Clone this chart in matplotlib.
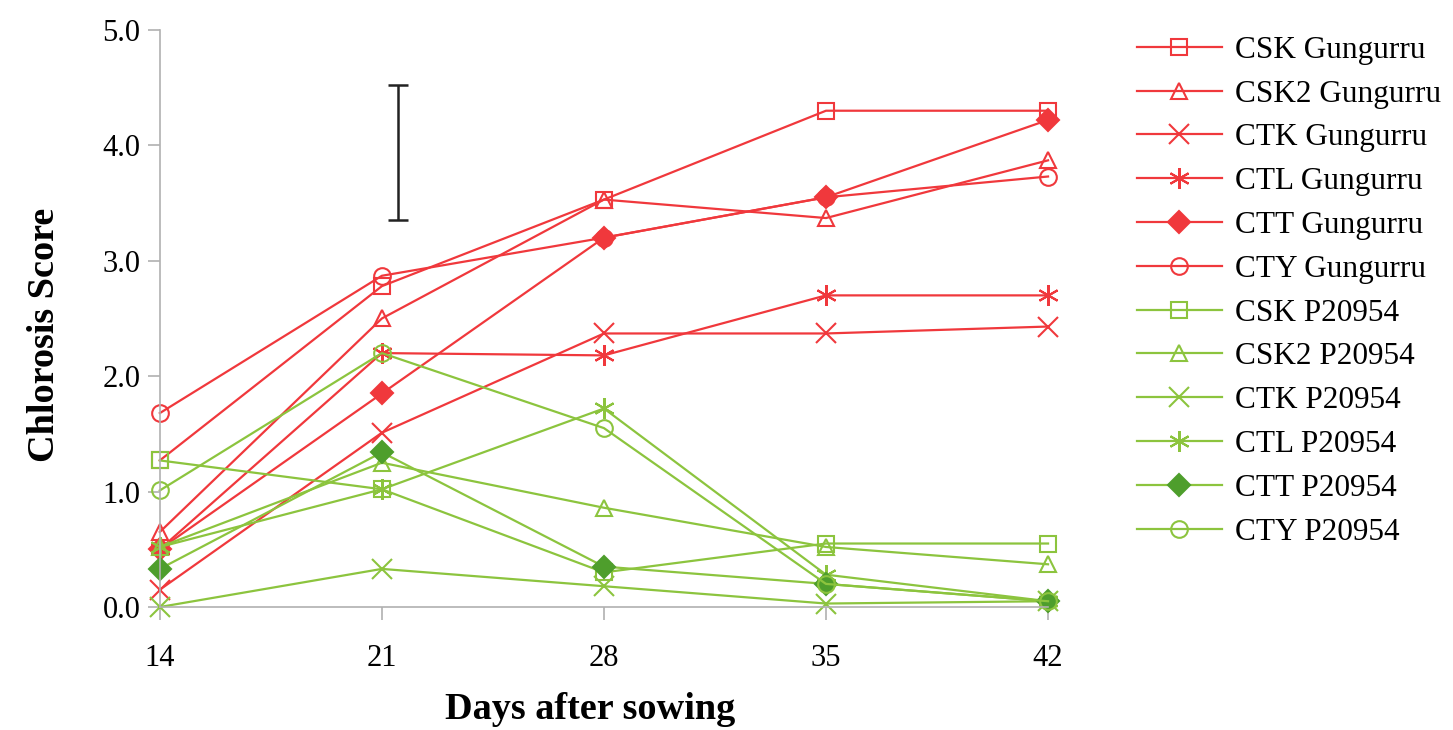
import matplotlib.pyplot as plt

plt.rcParams['font.family'] = ['Liberation Serif', 'DejaVu Serif']

days = [14, 21, 28, 35, 42]

# Gungurru series
csk_g = [1.27, 2.78, 3.53, 4.30, 4.30]
csk2_g = [0.65, 2.50, 3.53, 3.37, 3.87]
ctk_g = [0.15, 1.51, 2.37, 2.37, 2.43]
ctl_g = [0.50, 2.20, 2.18, 2.70, 2.70]
ctt_g = [0.50, 1.85, 3.20, 3.55, 4.22]
cty_g = [1.68, 2.87, 3.20, 3.55, 3.73]

# P20954 series
csk_p = [1.27, 1.02, 0.30, 0.55, 0.55]
csk2_p = [0.52, 1.25, 0.86, 0.52, 0.37]
ctk_p = [0.00, 0.33, 0.18, 0.03, 0.05]
ctl_p = [0.52, 1.02, 1.72, 0.28, 0.05]
ctt_p = [0.33, 1.34, 0.35, 0.20, 0.05]
cty_p = [1.01, 2.20, 1.55, 0.20, 0.05]

# LSD bar
lsd_x = 21.5
lsd_lo, lsd_hi = 3.35, 4.52

red = '#f0383c'
green = '#8cc43e'
dkgreen = '#4e9e2c'

series = [
    ('CSK Gungurru', csk_g, red, 's', 'none'),
    ('CSK2 Gungurru', csk2_g, red, '^', 'none'),
    ('CTK Gungurru', ctk_g, red, 'x', red),
    ('CTL Gungurru', ctl_g, red, (6, 2, 0), red),
    ('CTT Gungurru', ctt_g, red, 'D', red),
    ('CTY Gungurru', cty_g, red, 'o', 'none'),
    ('CSK P20954', csk_p, green, 's', 'none'),
    ('CSK2 P20954', csk2_p, green, '^', 'none'),
    ('CTK P20954', ctk_p, green, 'x', green),
    ('CTL P20954', ctl_p, green, (6, 2, 0), green),
    ('CTT P20954', ctt_p, green, 'D', dkgreen),
    ('CTY P20954', cty_p, green, 'o', 'none'),
]

fig = plt.figure(figsize=(14.53, 7.3), dpi=100)
ax = fig.add_axes([0.110, 0.1685, 0.6113, 0.7905])

for name, vals, col, mk, fc in series:
    ms = 12
    if mk == 'D':
        ms = 11
    elif mk in ('x', (6, 2, 0)):
        ms = 15
    mec = dkgreen if fc == dkgreen else col
    ax.plot(days, vals, color=col, lw=1.6, marker=mk, ms=ms,
            mfc=fc, mec=mec, mew=1.5, label=name, clip_on=False)

ax.errorbar(lsd_x, (lsd_lo + lsd_hi) / 2, yerr=(lsd_hi - lsd_lo) / 2,
            color='#222222', lw=1.8, capsize=7, capthick=1.8)

ax.set_xlim(14, 42)
ax.set_ylim(0, 5)
ax.set_xticks(days)
ax.set_yticks([0, 1, 2, 3, 4, 5])
ax.set_yticklabels(['%.1f' % v for v in [0, 1, 2, 3, 4, 5]])
ax.tick_params(labelsize=22, length=9, width=1.2, color='#b0b0b0')
ax.tick_params(axis='x', pad=18)
ax.tick_params(axis='y', pad=5)
for s in ['top', 'right']:
    ax.spines[s].set_visible(False)
for s in ['left', 'bottom']:
    ax.spines[s].set_color('#b0b0b0')
    ax.spines[s].set_linewidth(1.2)

ax.set_xlabel('Days after sowing', fontsize=27.5, fontweight='bold')
ax.set_ylabel('Chlorosis Score', fontsize=27.5, fontweight='bold')
ax.xaxis.set_label_coords(0.485, -0.148)
ax.yaxis.set_label_coords(-0.110, 0.471)

ax.legend(loc='upper left', bbox_to_anchor=(1.100, 0.990), frameon=False,
          fontsize=22.5, handlelength=2.72, handletextpad=0.42, labelspacing=0.474,
          borderaxespad=0, borderpad=0)

fig.savefig('out.png', dpi=100)
